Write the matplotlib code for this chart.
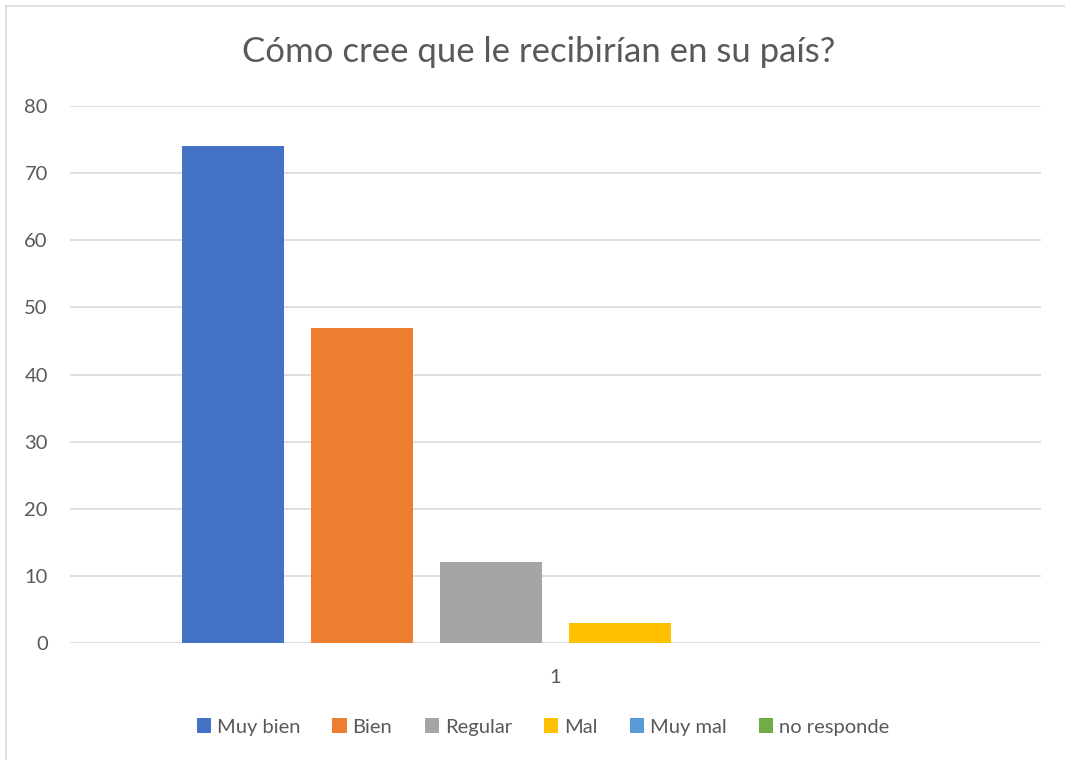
import matplotlib
matplotlib.use("Agg")
import matplotlib.pyplot as plt
from matplotlib.lines import Line2D
from matplotlib.patches import Patch

series = ["Muy bien", "Bien", "Regular", "Mal", "Muy mal", "no responde"]
values = [74, 47, 12, 3, 0, 0]
colors = ["#4472C4", "#ED7D31", "#A5A5A5", "#FFC000", "#5B9BD5", "#70AD47"]
category = "1"
yticks = [0, 10, 20, 30, 40, 50, 60, 70, 80]
title = "Cómo cree que le recibirían en su país?"

plt.rcParams['font.family'] = ['Lato', 'DejaVu Sans']
W, H = 1065, 760
fig = plt.figure(figsize=(W / 100, H / 100), dpi=100)
ax = fig.add_axes([70 / W, 117 / H, (1041 - 70) / W, (643 - 106) / H])

txt = "#595959"
grid = "#D9D9D9"
spacing = 129 / 971
bw = 102 / 971
for i, (s, v, c) in enumerate(zip(series, values, colors)):
    ax.bar((i - 2.5) * spacing, v, width=bw, color=c, label=s, zorder=3)

ax.set_xlim(-0.5, 0.5)
ax.set_ylim(0, 80)
ax.set_yticks(yticks)
ax.set_xticks([0])
ax.set_xticklabels([category])
for sp in ax.spines.values():
    sp.set_visible(False)
ax.yaxis.grid(True, color=grid, linewidth=1.2, zorder=0)
ax.tick_params(axis='both', length=0, labelsize=14.5, colors=txt)
ax.tick_params(axis='y', pad=16)
ax.tick_params(axis='x', pad=19)
ax.set_axisbelow(True)

fig.text(539 / W, 1 - 52 / H, title, ha='center', va='center', fontsize=25, color=txt)

handles = [Patch(facecolor=c, edgecolor='none') for c in colors]
fig.legend(handles, series, loc='center', bbox_to_anchor=(543 / W, 1 - 727 / H), ncol=6,
           frameon=False, fontsize=14.5, handlelength=0.7, handleheight=0.7,
           handletextpad=0.3, columnspacing=1.6, labelcolor=txt)

fig.add_artist(Line2D([6 / W, 6 / W], [0, 1 - 6 / H], transform=fig.transFigure, color=grid, lw=1.2))
fig.add_artist(Line2D([6 / W, 1], [1 - 6 / H, 1 - 6 / H], transform=fig.transFigure, color=grid, lw=1.2))

fig.savefig("out.png", dpi=100)
